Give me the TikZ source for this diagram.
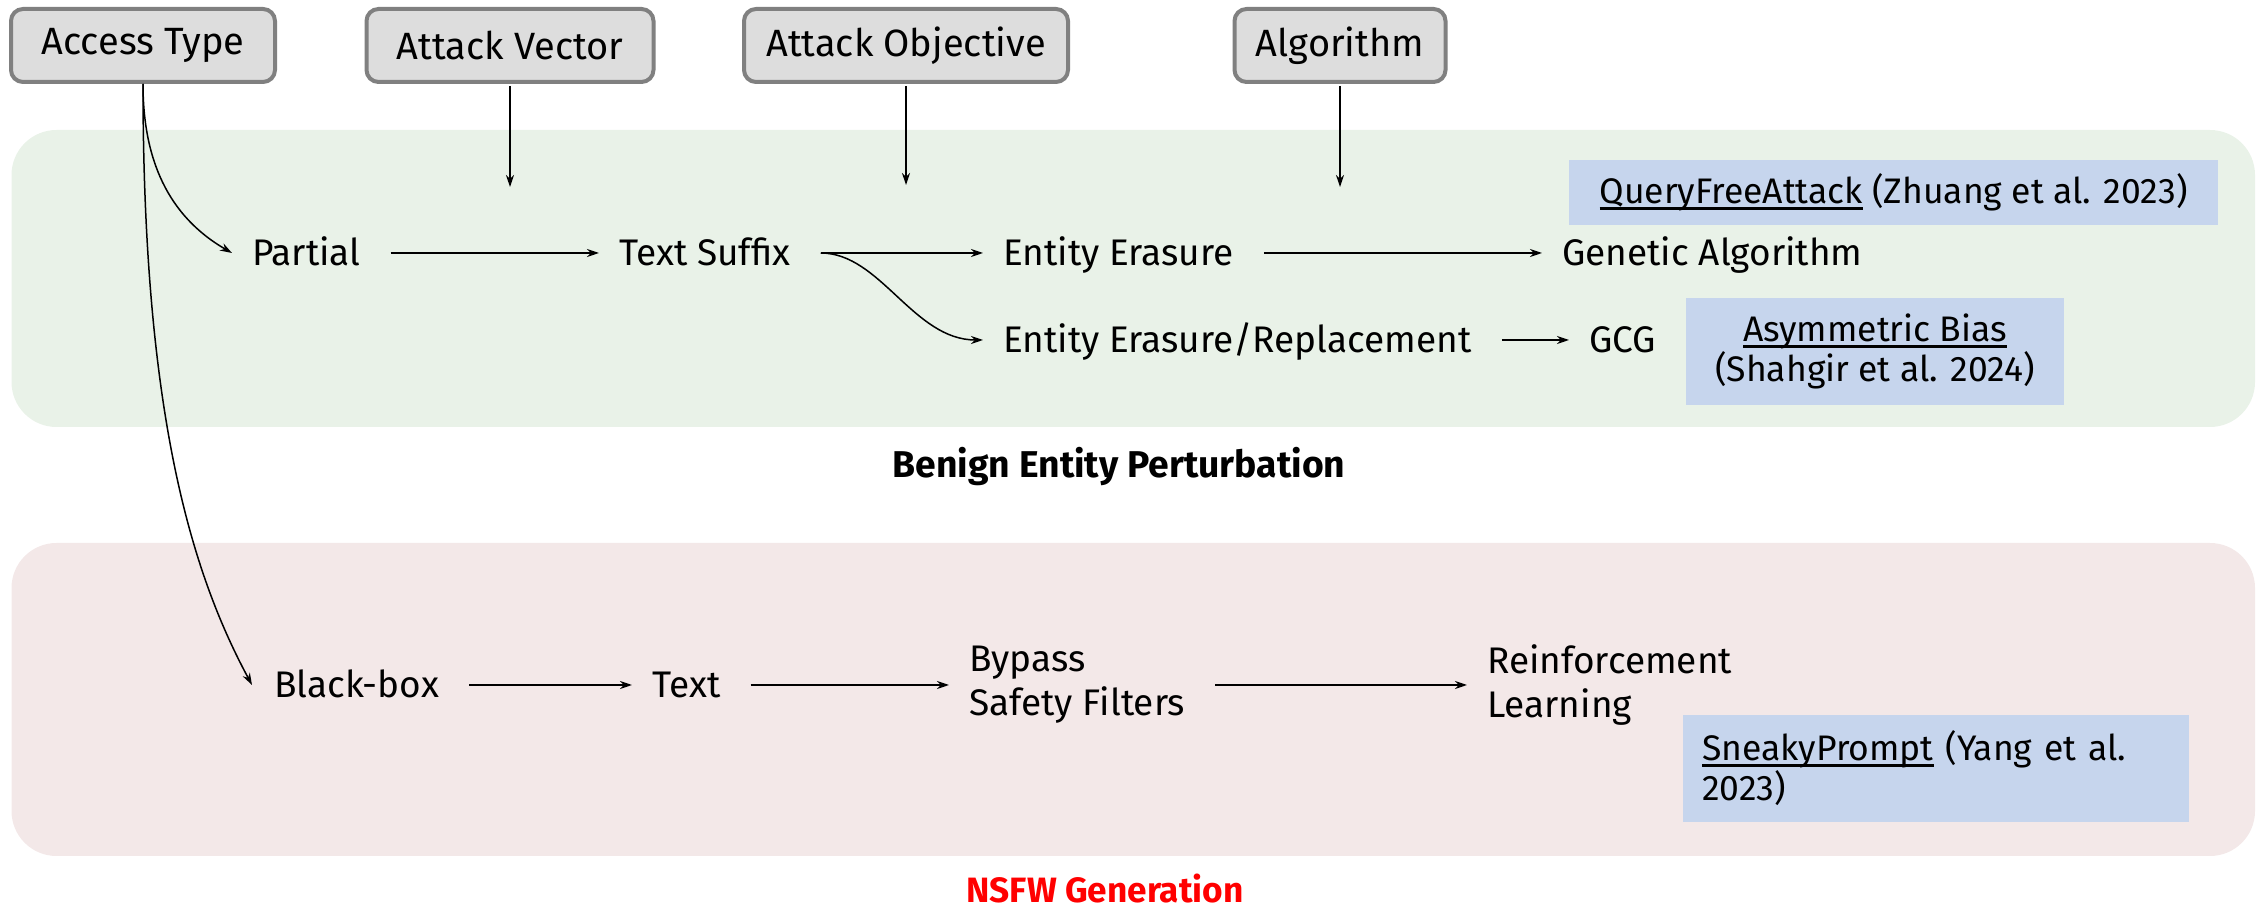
\documentclass[tikz,border=0pt]{standalone}
\usepackage{fontspec}
\setmainfont{Fira Sans}
\usetikzlibrary{arrows.meta,calc}
\definecolor{grn}{HTML}{E9F2E8}
\definecolor{pnk}{HTML}{F3E8E8}
\definecolor{refblue}{HTML}{C6D5ED}
\definecolor{boxgray}{HTML}{DDDDDD}
\definecolor{bordergray}{HTML}{808080}
\definecolor{nsfwred}{HTML}{FF0000}
\newcommand{\myul}[1]{\setbox0\hbox{#1}\rlap{\rule[-6pt]{\wd0}{2.5pt}}\box0\relax}
\begin{document}
\begin{tikzpicture}[x=1pt,y=1pt, font=\fontsize{37}{44}\selectfont,
 topbox/.style={draw=bordergray, line width=4pt, fill=boxgray, rounded corners=12pt, minimum height=73pt, inner sep=0pt, font=\fontsize{38}{44}\selectfont},
 lbl/.style={anchor=west, inner sep=0pt, text height=27pt, text depth=1pt},
 lbl2/.style={anchor=west, inner sep=0pt, align=left},
 refbox/.style={fill=refblue, inner sep=0pt, font=\fontsize{35.5}{40}\selectfont},
 title/.style={inner sep=0pt, text height=26pt, text depth=0pt},
 arr/.style={-{Stealth[length=12pt,width=8pt]}, line width=2pt},
 thinarr/.style={-{Stealth[length=12pt,width=8pt]}, line width=1.5pt},
 gap/.style={shorten <=30pt, shorten >=20pt}]
\useasboundingbox (0,0) rectangle (2262,910);
\fill[grn, rounded corners=45pt] (11.5,483) rectangle (2255,780);
\fill[pnk, rounded corners=45pt] (11.5,54) rectangle (2255,367);
% top boxes
\node[topbox, minimum width=264pt] (acc) at (143,864.5) {Access Type};
\node[topbox, minimum width=287pt] (vec) at (510,864.5) {Attack Vector};
\node[topbox, minimum width=324pt] (obj) at (906,864.5) {Attack Objective};
\node[topbox, minimum width=211pt] (alg) at (1340,864.5) {Algorithm};
\coordinate (vecend) at (510,723);
\coordinate (objend) at (906,725);
\coordinate (algend) at (1340,723);
\draw[thinarr, shorten <=2pt] (vec.south) -- (vecend);
\draw[thinarr, shorten <=2pt] (obj.south) -- (objend);
\draw[thinarr, shorten <=2pt] (alg.south) -- (algend);
% green panel
\node[lbl] (partial) at (252,657) {Partial};
\node[lbl] (suffix) at (619,657) {Text Suffix};
\node[lbl] (erase) at (1003,657) {Entity Erasure};
\node[lbl] (genetic) at (1562,657) {Genetic Algorithm};
\node[lbl] (replace) at (1003,570) {Entity Erasure/Replacement};
\node[lbl] (gcg) at (1589,570) {GCG};
\node[refbox, minimum width=649pt, minimum height=65pt] (qfa) at (1893.5,717.5) {\myul{QueryFreeAttack} (Zhuang et al. 2023)};
\node[refbox, minimum width=378pt, minimum height=107pt, align=center] (asym) at (1875,558.5) {\myul{Asymmetric Bias}\\(Shahgir et al. 2024)};
\node[title, font=\fontsize{37.3}{44}\selectfont\bfseries] (benign) at (1119,445) {Benign Entity Perturbation};
% pink panel
\node[lbl] (bb) at (274,225) {Black-box};
\node[lbl] (txt) at (652,225) {Text};
\node[lbl2] (bypass) at (969,225) {Bypass\\Safety Filters};
\node[lbl2] (rl) at (1487,225) {Reinforcement\\Learning};
\node[refbox, text width=468pt, align=left, inner xsep=19pt, minimum height=107pt] (sneaky) at (1936,141.5) {\myul{SneakyPrompt} (Yang et al.\\2023)};
\node[title, font=\fontsize{35.2}{42}\selectfont\bfseries, text=nsfwred] (nsfw) at (1105,20) {NSFW Generation};
% connectors
\draw[arr,gap] (partial.east) -- (suffix.west);
\draw[arr,gap] (suffix.east) -- (erase.west);
\draw[thinarr,gap] (suffix.east) to[out=0,in=180] (replace.west);
\draw[arr,gap] (erase.east) -- (genetic.west);
\draw[arr,gap] (replace.east) -- (gcg.west);
\draw[arr,gap] (bb.east) -- (txt.west);
\draw[arr,gap] (txt.east) -- (bypass.west);
\draw[arr,gap] (bypass.east) -- (rl.west);
\draw[thinarr] (acc.south) to[out=-90,in=150] ([xshift=-20pt]partial.west);
\draw[thinarr] (acc.south) .. controls ([yshift=-326pt]acc.south) and ([xshift=-84pt,yshift=115pt]bb.west) .. ([xshift=-22pt]bb.west);
\end{tikzpicture}
\end{document}
